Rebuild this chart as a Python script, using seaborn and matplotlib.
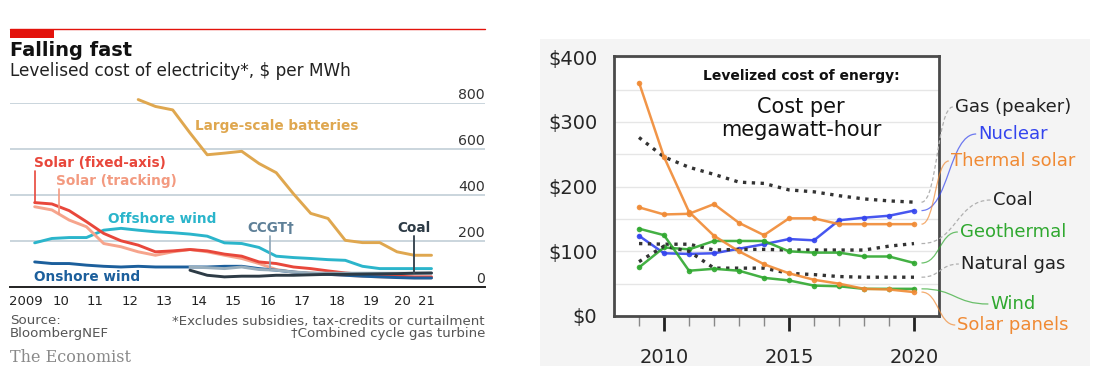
import numpy as np
import matplotlib.pyplot as plt
import seaborn as sns
from matplotlib.lines import Line2D
from matplotlib.patches import Rectangle, PathPatch
from matplotlib.path import Path
from matplotlib.transforms import IdentityTransform

W, H = 1100, 378

# ---------------- left: The Economist, half-yearly LCOE ($/MWh) ----------------
half_years = np.arange(2009.75, 2021.3, 0.5)   # 2H 2009 ... 1H 2021
solar_fixed = [367, 361, 332, 284, 233, 201, 182, 153, 157, 163, 157, 143,
               134, 109, 102, 87, 80, 70, 61, 55, 51, 47, 44, 44]
solar_tracking = [349, 335, 291, 262, 189, 175, 153, 138, 153, 163, 153, 138,
                  124, 102, 76, 65, 61, 55, 51, 47, 44, 42, 40, 40]
offshore_wind = [192, 211, 215, 215, 247, 255, 247, 240, 236, 230, 221, 192,
                 189, 172, 134, 128, 124, 119, 116, 90, 80, 80, 80, 80]
onshore_wind = [109, 102, 102, 95, 90, 87, 90, 87, 87, 87, 87, 90,
                90, 80, 73, 65, 58, 55, 51, 47, 44, 41, 39, 39]
batteries = [815, 785, 770, 670, 575, 582, 590, 537, 497, 405, 320, 298,
             203, 193, 193, 153, 138, 138]          # from 2H 2012
ccgt = [87, 84, 80, 87, 76, 73, 65, 61, 60, 60, 60, 60, 60, 60, 60]   # from 1H 2014
coal_l = [73, 51, 44, 47, 47, 51, 51, 53, 55, 55, 56, 57, 58, 60, 61]  # from 1H 2014

year_ticks = [2009.5] + list(range(2010, 2022)) + [2021.5]
year_label_pos = [2009.5, 2010.5, 2011.5, 2012.5, 2013.5, 2014.5, 2015.5,
                  2016.5, 2017.5, 2018.5, 2019.5, 2020.42, 2021.1]
year_labels = ['2009', '10', '11', '12', '13', '14', '15', '16', '17', '18',
               '19', '20', '21']
left_yticks = [0, 200, 400, 600, 800]

# ---------------- right: Lazard-style levelized cost of energy ----------------
years_r = list(range(2009, 2021))
gas_peaker = [276, 246, 230, 219, 207, 205, 195, 192, 186, 181, 178, 176]
nuclear = [124, 97, 96, 97, 104, 111, 119, 117, 148, 152, 155, 163]
thermal_solar = [168, 157, 158, 173, 144, 125, 151, 151, 142, 142, 142, 142]
coal_r = [112, 111, 111, 102, 103, 103, 102, 102, 102, 102, 108, 112]
geothermal = [75, 106, 103, 116, 116, 116, 100, 98, 98, 92, 92, 82]
natural_gas = [84, 108, 100, 74, 74, 74, 66, 64, 61, 60, 60, 60]
wind = [135, 125, 70, 73, 70, 59, 55, 47, 46, 42, 42, 42]
solar_panels = [361, 246, 161, 124, 100, 80, 66, 56, 50, 42, 41, 37]

right_names = ['Gas (peaker)', 'Nuclear', 'Thermal solar', 'Coal',
               'Geothermal', 'Natural gas', 'Wind', 'Solar panels']
right_series = [gas_peaker, nuclear, thermal_solar, coal_r,
                geothermal, natural_gas, wind, solar_panels]

ORANGE, GREEN, BLUE, DOT = '#f08a34', '#2fa82f', '#3344ee', '#333333'
right_colors = [DOT, BLUE, ORANGE, DOT, GREEN, DOT, GREEN, ORANGE]
right_label_colors = ['#222222', BLUE, ORANGE, '#222222', GREEN, '#222222', GREEN, ORANGE]
right_label_y = [107, 134, 161, 200, 232, 264, 304, 325]   # pixel rows of labels


def fx(px):
    return px / W


def fy(py):
    return 1 - py / H


sns.set_theme(style="white")
plt.rcParams['font.family'] = ['DejaVu Sans']

fig = plt.figure(figsize=(W / 100, H / 100), dpi=100)
fig.patch.set_facecolor('white')

# ============ left chart ============
RED = '#e3120b'
fig.add_artist(Line2D([fx(10), fx(485)], [fy(29), fy(29)], color=RED, lw=1.0))
fig.add_artist(Rectangle((fx(10), fy(37.5)), fx(54) - fx(10), fy(29) - fy(37.5),
                         color=RED, transform=fig.transFigure, lw=0))
fig.text(fx(10), fy(51), 'Falling fast', fontsize=14, fontweight='bold',
         color='#111111', va='center')
fig.text(fx(10), fy(71), 'Levelised cost of electricity*, $ per MWh',
         fontsize=12.2, color='#222222', va='center')

axL = fig.add_axes([fx(10), fy(287), fx(485) - fx(10), fy(103) - fy(287)])
axL.set_xlim(2009.035, 2022.8)
axL.set_ylim(0, 800)
axL.set_facecolor('white')

axL.set_yticks(left_yticks)
axL.yaxis.grid(True, color='#bccad3', lw=1.1)
axL.tick_params(axis='y', length=0, labelleft=False)
for v in left_yticks:
    axL.annotate(str(v), xy=(1, v), xycoords=('axes fraction', 'data'),
                 xytext=(0, 1), textcoords='offset points', ha='right',
                 va='bottom', fontsize=10.2, color='#333333')

for s in ['top', 'right', 'left']:
    axL.spines[s].set_visible(False)
axL.spines['bottom'].set_color('#222222')
axL.spines['bottom'].set_linewidth(1.4)
axL.xaxis.remove_overlapping_locs = False
axL.set_xticks(year_ticks)
axL.set_xticklabels([''] * len(year_ticks))
axL.set_xticks(year_label_pos, minor=True)
axL.set_xticklabels(year_labels, minor=True)
axL.tick_params(axis='x', which='major', length=4, width=1, color='#222222',
                direction='out')
axL.tick_params(axis='x', which='minor', length=0, pad=6, labelsize=9.5,
                labelcolor='#222222')

left_lines = [
    (half_years, offshore_wind, '#2bb5cb'),
    (half_years[-len(batteries):], batteries, '#dfa74f'),
    (half_years, solar_tracking, '#f6a48c'),
    (half_years, solar_fixed, '#e8473b'),
    (half_years, onshore_wind, '#1c5f9c'),
    (half_years[-len(ccgt):], ccgt, '#98aebd'),
    (half_years[-len(coal_l):], coal_l, '#2d3b46'),
]
for xs, ys, c in left_lines:
    sns.lineplot(x=xs, y=ys, ax=axL, color=c, lw=2.1, clip_on=False)

lab_kw = dict(fontsize=9.8, fontweight='bold', va='center')
axL.text(2014.39, 700, 'Large-scale batteries', color='#dfa74f', **lab_kw)
axL.text(2009.72, 540, 'Solar (fixed-axis)', color='#e8473b', **lab_kw)
axL.text(2010.37, 461, 'Solar (tracking)', color='#f39a80', **lab_kw)
axL.text(2011.88, 296, 'Offshore wind', color='#2bb5cb', **lab_kw)
axL.text(2015.90, 257, 'CCGT\u2020', color='#5e8098', **lab_kw)
axL.text(2020.74, 257, 'Coal', color='#2d3b46', ha='center', **lab_kw)
axL.text(2009.72, 43, 'Onshore wind', color='#1c5f9c', **lab_kw)

# leader lines from labels down to series
lx = half_years[0]
axL.plot([lx, lx], [505, solar_fixed[0]], color='#e8473b', lw=1.2)
lx = 2010.45
axL.plot([lx, lx], [425, np.interp(lx, half_years, solar_tracking)], color='#f39a80', lw=1.2)
lx = 2016.57
axL.plot([lx, lx], [222, np.interp(lx, half_years[-len(ccgt):], ccgt)], color='#8ea6b8', lw=1.2)
lx = 2020.74
axL.plot([lx, lx], [222, np.interp(lx, half_years[-len(coal_l):], coal_l)], color='#3d4a55', lw=1.4)

foot_kw = dict(fontsize=9.6, color='#555555', va='center')
fig.text(fx(10), fy(321), 'Source:', **foot_kw)
fig.text(fx(10), fy(334), 'BloombergNEF', **foot_kw)
fig.text(fx(485), fy(321), '*Excludes subsidies, tax-credits or curtailment',
         ha='right', **foot_kw)
fig.text(fx(485), fy(334), '\u2020Combined cycle gas turbine', ha='right', **foot_kw)
fig.text(fx(10), fy(357), 'The Economist', fontsize=11.5, color='#8a8a8a',
         va='center', family='DejaVu Serif')

# ============ right chart ============
fig.add_artist(Rectangle((fx(540), fy(366)), fx(1090) - fx(540), fy(39) - fy(366),
                         color='#f4f4f4', transform=fig.transFigure, lw=0, zorder=0))

axR = fig.add_axes([fx(614), fy(316), fx(939) - fx(614), fy(56) - fy(316)])
axR.set_facecolor('white')
axR.set_xlim(2008, 2021)
axR.set_ylim(0, 402)
axR.set_yticks(range(50, 400, 50), minor=True)
axR.set_yticks([0, 100, 200, 300, 400])
axR.set_yticklabels(['$0', '$100', '$200', '$300', '$400'])
axR.grid(axis='y', which='both', color='#e6e6e6', lw=1.0)
axR.set_xticks(years_r, minor=True)
axR.set_xticks([2010, 2015, 2020])
axR.set_xticklabels(['2010', '2015', '2020'])
axR.tick_params(axis='x', which='major', length=11, width=2, color='#222222',
                direction='out', pad=12, labelsize=14, bottom=True)
axR.tick_params(axis='x', which='minor', length=7, width=1, color='#888888',
                direction='out', bottom=True)
axR.tick_params(axis='y', which='both', length=0, pad=12, labelsize=14)
for s in axR.spines.values():
    s.set_color('#4a4a4a')
    s.set_linewidth(2)

for name, ys, c in zip(right_names, right_series, right_colors):
    if c == DOT:
        sns.lineplot(x=years_r, y=ys, ax=axR, color=c, lw=2.4, ls=':')
    else:
        sns.lineplot(x=years_r, y=ys, ax=axR, color=c, lw=1.8, alpha=0.9,
                     marker='o', markersize=4, markeredgewidth=0)

axR.text(0.575, 0.923, 'Levelized cost of energy:', transform=axR.transAxes,
         ha='center', va='center', fontsize=10, fontweight='bold', color='#111111')
axR.text(0.575, 0.804, 'Cost per', transform=axR.transAxes, ha='center',
         va='center', fontsize=15, color='#111111')
axR.text(0.575, 0.715, 'megawatt-hour', transform=axR.transAxes, ha='center',
         va='center', fontsize=15, color='#111111')

labels = []
for name, c, py in zip(right_names, right_label_colors, right_label_y):
    labels.append(fig.text(fx(1013), fy(py), name, ha='center', va='center',
                           fontsize=13, color=c))

# curved connectors from series ends to the labels
fig.canvas.draw()
renderer = fig.canvas.get_renderer()
for t, ys, c in zip(labels, right_series, right_colors):
    x0, y0 = axR.transData.transform((2020.3, ys[-1]))
    bb = t.get_window_extent(renderer)
    x1, y1 = bb.x0 - 2, (bb.y0 + bb.y1) / 2
    dx = x1 - x0
    verts = [(x0, y0), (x0 + 0.5 * dx, y0), (x1 - 0.5 * dx, y1), (x1, y1)]
    path = Path(verts, [Path.MOVETO, Path.CURVE4, Path.CURVE4, Path.CURVE4])
    if c == DOT:
        patch = PathPatch(path, fc='none', ec='#b0b0b0', lw=0.9, ls=(0, (3, 2)),
                          transform=IdentityTransform())
    else:
        patch = PathPatch(path, fc='none', ec=c, lw=0.9, alpha=0.7,
                          transform=IdentityTransform())
    fig.add_artist(patch)

fig.savefig('out.png', dpi=100)
